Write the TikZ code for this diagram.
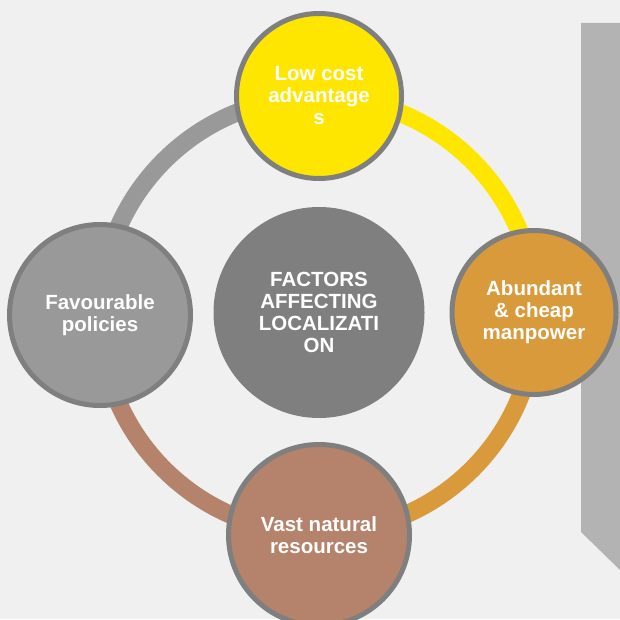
\documentclass[tikz,border=0pt]{standalone}
\usepackage{fontspec}
\setmainfont{Liberation Sans}
\definecolor{bgc}{HTML}{F0F0F0}
\definecolor{panelc}{HTML}{B3B3B3}
\definecolor{borderc}{HTML}{7F7F7F}
\definecolor{yellowc}{HTML}{FFE600}
\definecolor{orangec}{HTML}{D89A3A}
\definecolor{brownc}{HTML}{B5836B}
\definecolor{lgrayc}{HTML}{999999}
\definecolor{centerc}{HTML}{7F7F7F}
\tikzset{
  factor/.style={circle, draw=borderc, line width=5pt, inner sep=0pt, text=white,
    align=center, font=\fontsize{20.5}{22}\selectfont\bfseries},
  hub/.style={circle, fill=centerc, inner sep=0pt, text=white,
    align=center, font=\fontsize{20.5}{22}\selectfont\bfseries},
  ringseg/.style={line width=18pt}
}
\begin{document}
\begin{tikzpicture}[x=1pt,y=1pt]
\useasboundingbox (0,0) rectangle (620,619);
\fill[bgc] (0,0) rectangle (620,619);
% side panel
\fill[panelc] (581,596) -- (620,596) -- (620,49) -- (581,87) -- cycle;
% ring anchor coordinates
\coordinate (ringc) at (318,304);
\coordinate (ptop) at (318,522);
\coordinate (pright) at (536,304);
\coordinate (pbottom) at (318,86);
\coordinate (pleft) at (100,304);
% ring segments
\draw[ringseg, draw=yellowc] (ptop) arc[start angle=90, end angle=0, radius=218];
\draw[ringseg, draw=orangec] (pright) arc[start angle=0, end angle=-90, radius=218];
\draw[ringseg, draw=brownc] (pbottom) arc[start angle=-90, end angle=-180, radius=218];
\draw[ringseg, draw=lgrayc] (pleft) arc[start angle=180, end angle=90, radius=218];
% factor circles
\node[factor, fill=yellowc, minimum size=165pt] (top) at (319,523) {Low cost\\advantage\\s};
\node[factor, fill=orangec, minimum size=164pt] (right) at (534,306.5) {Abundant\\\& cheap\\manpower};
\node[factor, fill=lgrayc, minimum size=181pt] (left) at (100,304) {Favourable\\policies};
\node[factor, fill=brownc, minimum size=181pt] (bottom) at (319,84) {Vast natural\\resources};
% hub
\node[hub, minimum size=211pt] (hub) at (319,306.5) {FACTORS\\AFFECTING\\LOCALIZATI\\ON};
\end{tikzpicture}
\end{document}
